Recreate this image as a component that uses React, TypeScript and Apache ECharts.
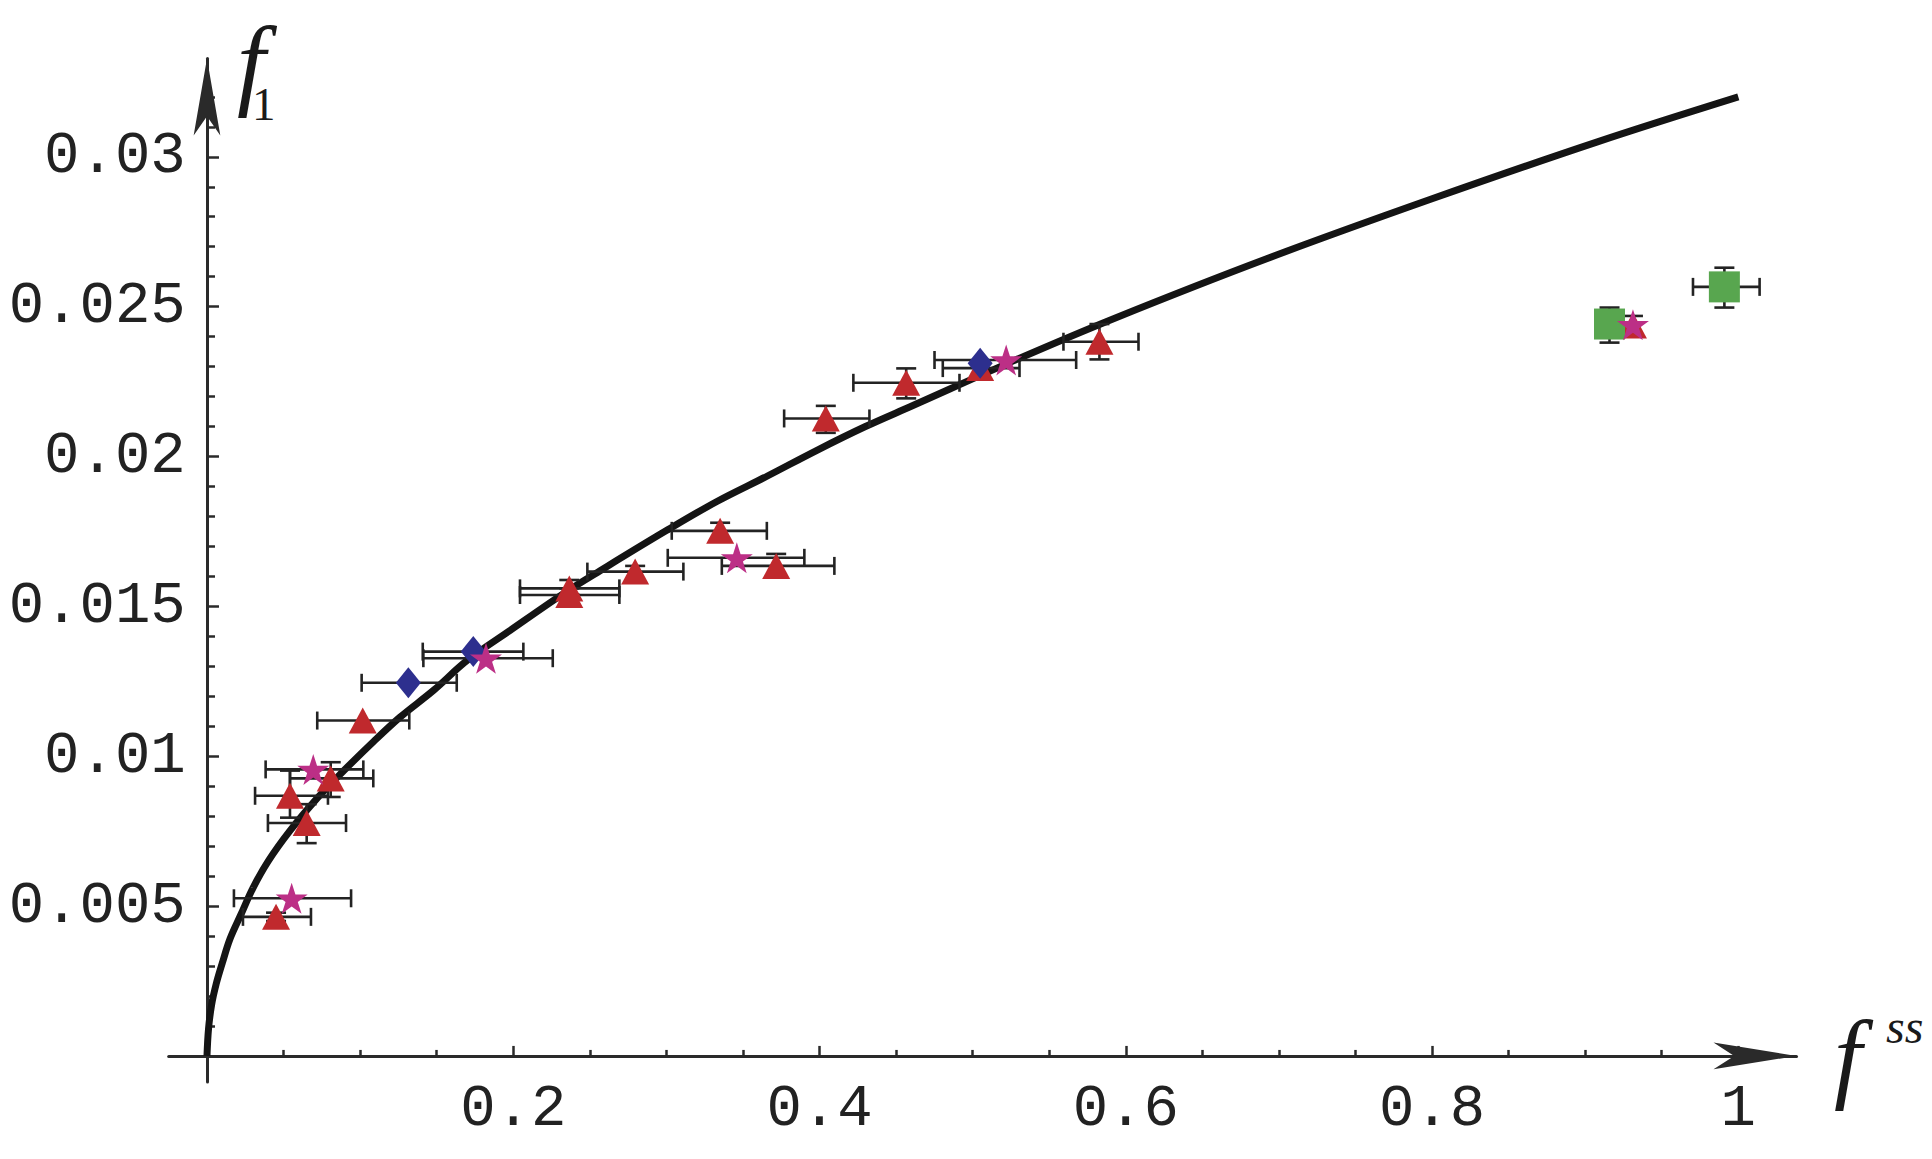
import React, { useEffect, useRef } from "react";
import * as echarts from "echarts";

// theoretical curve f1(f_ss)
const curve: number[][] = [
  [0, 0], [0.001, 0.0009], [0.003, 0.0017], [0.006, 0.0024], [0.01, 0.0031],
  [0.015, 0.0039], [0.022, 0.0047], [0.03, 0.0056], [0.04, 0.0065], [0.054, 0.0075],
  [0.072, 0.0086], [0.087, 0.0094], [0.109, 0.0105], [0.126, 0.0113], [0.148, 0.0122],
  [0.17, 0.0132], [0.198, 0.0142], [0.235, 0.0155], [0.257, 0.0162], [0.3, 0.01753],
  [0.333, 0.0185], [0.366, 0.01935], [0.398, 0.0202], [0.43, 0.021], [0.461, 0.0217],
  [0.527, 0.0232], [0.592, 0.0246], [0.692, 0.0266], [0.8, 0.0286], [0.908, 0.0305],
  [1.0, 0.032],
];

// rows: [x, y, xLow, xHigh, yLow, yHigh]
const triangles: (number | null)[][] = [
  [0.0451, 0.00464, 0.0235, 0.0679, 0.0045, 0.00478],
  [0.0651, 0.00777, 0.0398, 0.0908, 0.0071, 0.0084],
  [0.0542, 0.00868, 0.0314, 0.079, 0.00795, 0.00952],
  [0.0808, 0.00926, 0.0542, 0.1086, 0.00864, 0.0098],
  [0.1017, 0.01119, 0.072, 0.1321, null, null],
  [0.2366, 0.0156, 0.2044, 0.2693, 0.0154, 0.01588],
  [0.2366, 0.01538, 0.2044, 0.2693, 0.01511, 0.0156],
  [0.2796, 0.01616, 0.2484, 0.3111, 0.01588, 0.01635],
  [0.3351, 0.01752, 0.3035, 0.3656, 0.01718, 0.01779],
  [0.3717, 0.01635, 0.3362, 0.4097, 0.01599, 0.01675],
  [0.4041, 0.02127, 0.3769, 0.4326, 0.02079, 0.02169],
  [0.4566, 0.02246, 0.4221, 0.4914, 0.02194, 0.02294],
  [0.5049, 0.02295, 0.4805, 0.5306, 0.0227, 0.0232],
  [0.5828, 0.02383, 0.5593, 0.6083, 0.02324, 0.02442],
  [0.9312, 0.02437, null, null, 0.02405, 0.02469],
];

const stars: (number | null)[][] = [
  [0.0553, 0.00526, 0.0176, 0.0941, null, null],
  [0.0694, 0.00956, 0.0383, 0.1021, null, null],
  [0.1822, 0.01327, 0.1413, 0.2258, null, null],
  [0.346, 0.01662, 0.3009, 0.3901, null, null],
  [0.5219, 0.02322, 0.4751, 0.5676, null, null],
  [0.9312, 0.0244, null, null, null, null],
];

const diamonds: (number | null)[][] = [
  [0.1315, 0.01245, 0.101, 0.1631, null, null],
  [0.1739, 0.01349, 0.1409, 0.2066, null, null],
  [0.5049, 0.02311, null, null, null, null],
];

const squares: (number | null)[][] = [
  [0.9159, 0.02442, null, null, 0.0238, 0.02497],
  [0.9909, 0.02566, 0.9704, 1.0139, 0.02497, 0.0263],
];

const xMajorTicks = [0.2, 0.4, 0.6, 0.8, 1];
const xTickLabels = ["0.2", "0.4", "0.6", "0.8", "1"];
const xMinorTicks = [0.05, 0.1, 0.15, 0.25, 0.3, 0.35, 0.45, 0.5, 0.55, 0.65, 0.7, 0.75, 0.85, 0.9, 0.95];
const yMajorTicks = [0.005, 0.01, 0.015, 0.02, 0.025, 0.03];
const yTickLabels = ["0.005", "0.01", "0.015", "0.02", "0.025", "0.03"];
const yMinorTicks = [
  0.001, 0.002, 0.003, 0.004, 0.006, 0.007, 0.008, 0.009, 0.011, 0.012, 0.013, 0.014,
  0.016, 0.017, 0.018, 0.019, 0.021, 0.022, 0.023, 0.024, 0.026, 0.027, 0.028, 0.029,
  0.031, 0.032,
];

const STAR =
  "path://M100,0 L122.45,69.1 L195.1,69.1 L136.3,111.8 L158.8,180.9 L100,138.2 L41.2,180.9 L63.7,111.8 L4.9,69.1 L77.55,69.1 Z";

const AXIS_COLOR = "#2a2a2a";
const X_MIN = -0.025;
const X_MAX = 1.038;
const Y_MIN = -0.00087;
const Y_MAX = 0.03328;

function labelFor(values: number[], labels: string[]) {
  return (v: number) => {
    const i = values.findIndex((t) => Math.abs(t - v) < 1e-9);
    return i >= 0 ? labels[i] : "";
  };
}

export default function App() {
  const ref = useRef<HTMLDivElement>(null);

  useEffect(() => {
    if (!ref.current) return;
    const chart = echarts.init(ref.current, null, { renderer: "svg" });

    const errorRows = [...triangles, ...squares, ...diamonds, ...stars].map((r) =>
      r.map((v) => (v == null ? "-" : v))
    );

    const labelFont = {
      fontFamily: "Liberation Mono",
      fontSize: 59,
      color: "#222",
    };

    const option: any = {
      animation: false,
      backgroundColor: "#ffffff",
      grid: {
        left: 168.7,
        right: 135.5,
        top: 58.5,
        bottom: 77,
        containLabel: false,
        outerBoundsMode: "none",
      },
      xAxis: [
        {
          type: "value",
          position: "bottom",
          min: X_MIN,
          max: X_MAX,
          axisLine: {
            show: true,
            onZero: true,
            onZeroAxisIndex: 0,
            symbol: ["none", "arrow"],
            symbolSize: [20, 83],
            lineStyle: { color: AXIS_COLOR, width: 3 },
          },
          axisTick: {
            show: true,
            inside: true,
            length: 10,
            customValues: xMajorTicks,
            lineStyle: { color: AXIS_COLOR, width: 2.5 },
          },
          axisLabel: {
            show: true,
            customValues: xMajorTicks,
            formatter: labelFor(xMajorTicks, xTickLabels),
            margin: -2,
            ...labelFont,
          },
          splitLine: { show: false },
        },
        {
          type: "value",
          position: "bottom",
          min: X_MIN,
          max: X_MAX,
          axisLine: { show: false, onZero: true, onZeroAxisIndex: 0 },
          axisTick: {
            show: true,
            inside: true,
            length: 6,
            customValues: xMinorTicks,
            lineStyle: { color: AXIS_COLOR, width: 2.5 },
          },
          axisLabel: { show: false },
          splitLine: { show: false },
        },
      ],
      yAxis: [
        {
          type: "value",
          position: "left",
          min: Y_MIN,
          max: Y_MAX,
          axisLine: {
            show: true,
            onZero: true,
            onZeroAxisIndex: 0,
            symbol: ["none", "arrow"],
            symbolSize: [20, 77],
            lineStyle: { color: AXIS_COLOR, width: 3 },
          },
          axisTick: {
            show: true,
            inside: true,
            length: 12,
            customValues: yMajorTicks,
            lineStyle: { color: AXIS_COLOR, width: 2.5 },
          },
          axisLabel: {
            show: true,
            customValues: yMajorTicks,
            formatter: labelFor(yMajorTicks, yTickLabels),
            margin: -17,
            ...labelFont,
          },
          splitLine: { show: false },
        },
        {
          type: "value",
          position: "left",
          min: Y_MIN,
          max: Y_MAX,
          axisLine: { show: false, onZero: true, onZeroAxisIndex: 0 },
          axisTick: {
            show: true,
            inside: true,
            length: 8,
            customValues: yMinorTicks,
            lineStyle: { color: AXIS_COLOR, width: 2.5 },
          },
          axisLabel: { show: false },
          splitLine: { show: false },
        },
      ],
      series: [
        {
          type: "line",
          name: "theory",
          data: curve,
          xAxisIndex: 0,
          yAxisIndex: 0,
          showSymbol: false,
          symbol: "none",
          smooth: 0.35,
          lineStyle: { color: "#141414", width: 7 },
          z: 2,
        },
        {
          type: "custom",
          name: "errors",
          xAxisIndex: 0,
          yAxisIndex: 0,
          data: errorRows,
          dimensions: ["x", "y", "xl", "xh", "yl", "yh"],
          encode: { x: 0, y: 1 },
          clip: false,
          z: 3,
          renderItem: (params: any, api: any) => {
            const x = api.value(0);
            const y = api.value(1);
            const xl = api.value(2);
            const xh = api.value(3);
            const yl = api.value(4);
            const yh = api.value(5);
            const style = { stroke: "#232323", lineWidth: 2.6, fill: "none" };
            const children: any[] = [];
            const ok = (v: any) => typeof v === "number" && !isNaN(v);
            const capX = 9;
            const capY = 10;
            if (ok(xl) && ok(xh)) {
              const a = api.coord([xl, y]);
              const b = api.coord([xh, y]);
              children.push({ type: "line", shape: { x1: a[0], y1: a[1], x2: b[0], y2: b[1] }, style });
              children.push({ type: "line", shape: { x1: a[0], y1: a[1] - capX, x2: a[0], y2: a[1] + capX }, style });
              children.push({ type: "line", shape: { x1: b[0], y1: b[1] - capX, x2: b[0], y2: b[1] + capX }, style });
            }
            if (ok(yl) && ok(yh)) {
              const a = api.coord([x, yl]);
              const b = api.coord([x, yh]);
              children.push({ type: "line", shape: { x1: a[0], y1: a[1], x2: b[0], y2: b[1] }, style });
              children.push({ type: "line", shape: { x1: a[0] - capY, y1: a[1], x2: a[0] + capY, y2: a[1] }, style });
              children.push({ type: "line", shape: { x1: b[0] - capY, y1: b[1], x2: b[0] + capY, y2: b[1] }, style });
            }
            return { type: "group", children };
          },
        },
        {
          type: "scatter",
          name: "triangles",
          data: triangles.map((r) => [r[0], r[1]]),
          symbol: "triangle",
          symbolSize: [28, 26],
          itemStyle: { color: "#c0292d", opacity: 1 },
          z: 4,
        },
        {
          type: "scatter",
          name: "squares",
          data: squares.map((r) => [r[0], r[1]]),
          symbol: "rect",
          symbolSize: [31, 31],
          itemStyle: { color: "#58a64f", opacity: 1 },
          z: 5,
        },
        {
          type: "scatter",
          name: "diamonds",
          data: diamonds.map((r) => [r[0], r[1]]),
          symbol: "diamond",
          symbolSize: [25, 31],
          itemStyle: { color: "#2d2f8e", opacity: 1 },
          z: 6,
        },
        {
          type: "scatter",
          name: "stars",
          data: stars.map((r) => [r[0], r[1]]),
          symbol: STAR,
          symbolSize: [32, 31],
          itemStyle: { color: "#bc2f86", opacity: 1 },
          z: 7,
        },
      ],
      graphic: [
        {
          type: "text",
          x: 237,
          y: 76,
          z: 100,
          style: {
            text: "{a|f}{b|1}",
            fill: "#1a1a1a",
            align: "left",
            verticalAlign: "middle",
            rich: {
              a: {
                fontFamily: "Liberation Serif",
                fontStyle: "italic",
                fontSize: 102,
                lineHeight: 102,
                width: 15,
                padding: [0, 0, 15, 0],
                verticalAlign: "bottom",
                fill: "#1a1a1a",
              },
              b: {
                fontFamily: "Liberation Serif",
                fontSize: 47,
                lineHeight: 47,
                verticalAlign: "bottom",
                fill: "#1a1a1a",
              },
            },
          },
        },
        {
          type: "text",
          x: 1834,
          y: 1056,
          z: 100,
          style: {
            text: "f",
            fontFamily: "Liberation Serif",
            fontStyle: "italic",
            fontSize: 100,
            fill: "#1a1a1a",
            align: "left",
            verticalAlign: "middle",
          },
        },
        {
          type: "text",
          x: 1886,
          y: 1026,
          z: 100,
          style: {
            text: "ss",
            fontFamily: "Liberation Serif",
            fontStyle: "italic",
            fontSize: 48,
            fill: "#1a1a1a",
            align: "left",
            verticalAlign: "middle",
          },
        },
      ],
    };

    chart.setOption(option);
    return () => chart.dispose();
  }, []);

  return (
    <div
      ref={ref}
      style={{ position: "fixed", left: 0, top: 0, width: 1932, height: 1159, background: "#fff" }}
    />
  );
}
